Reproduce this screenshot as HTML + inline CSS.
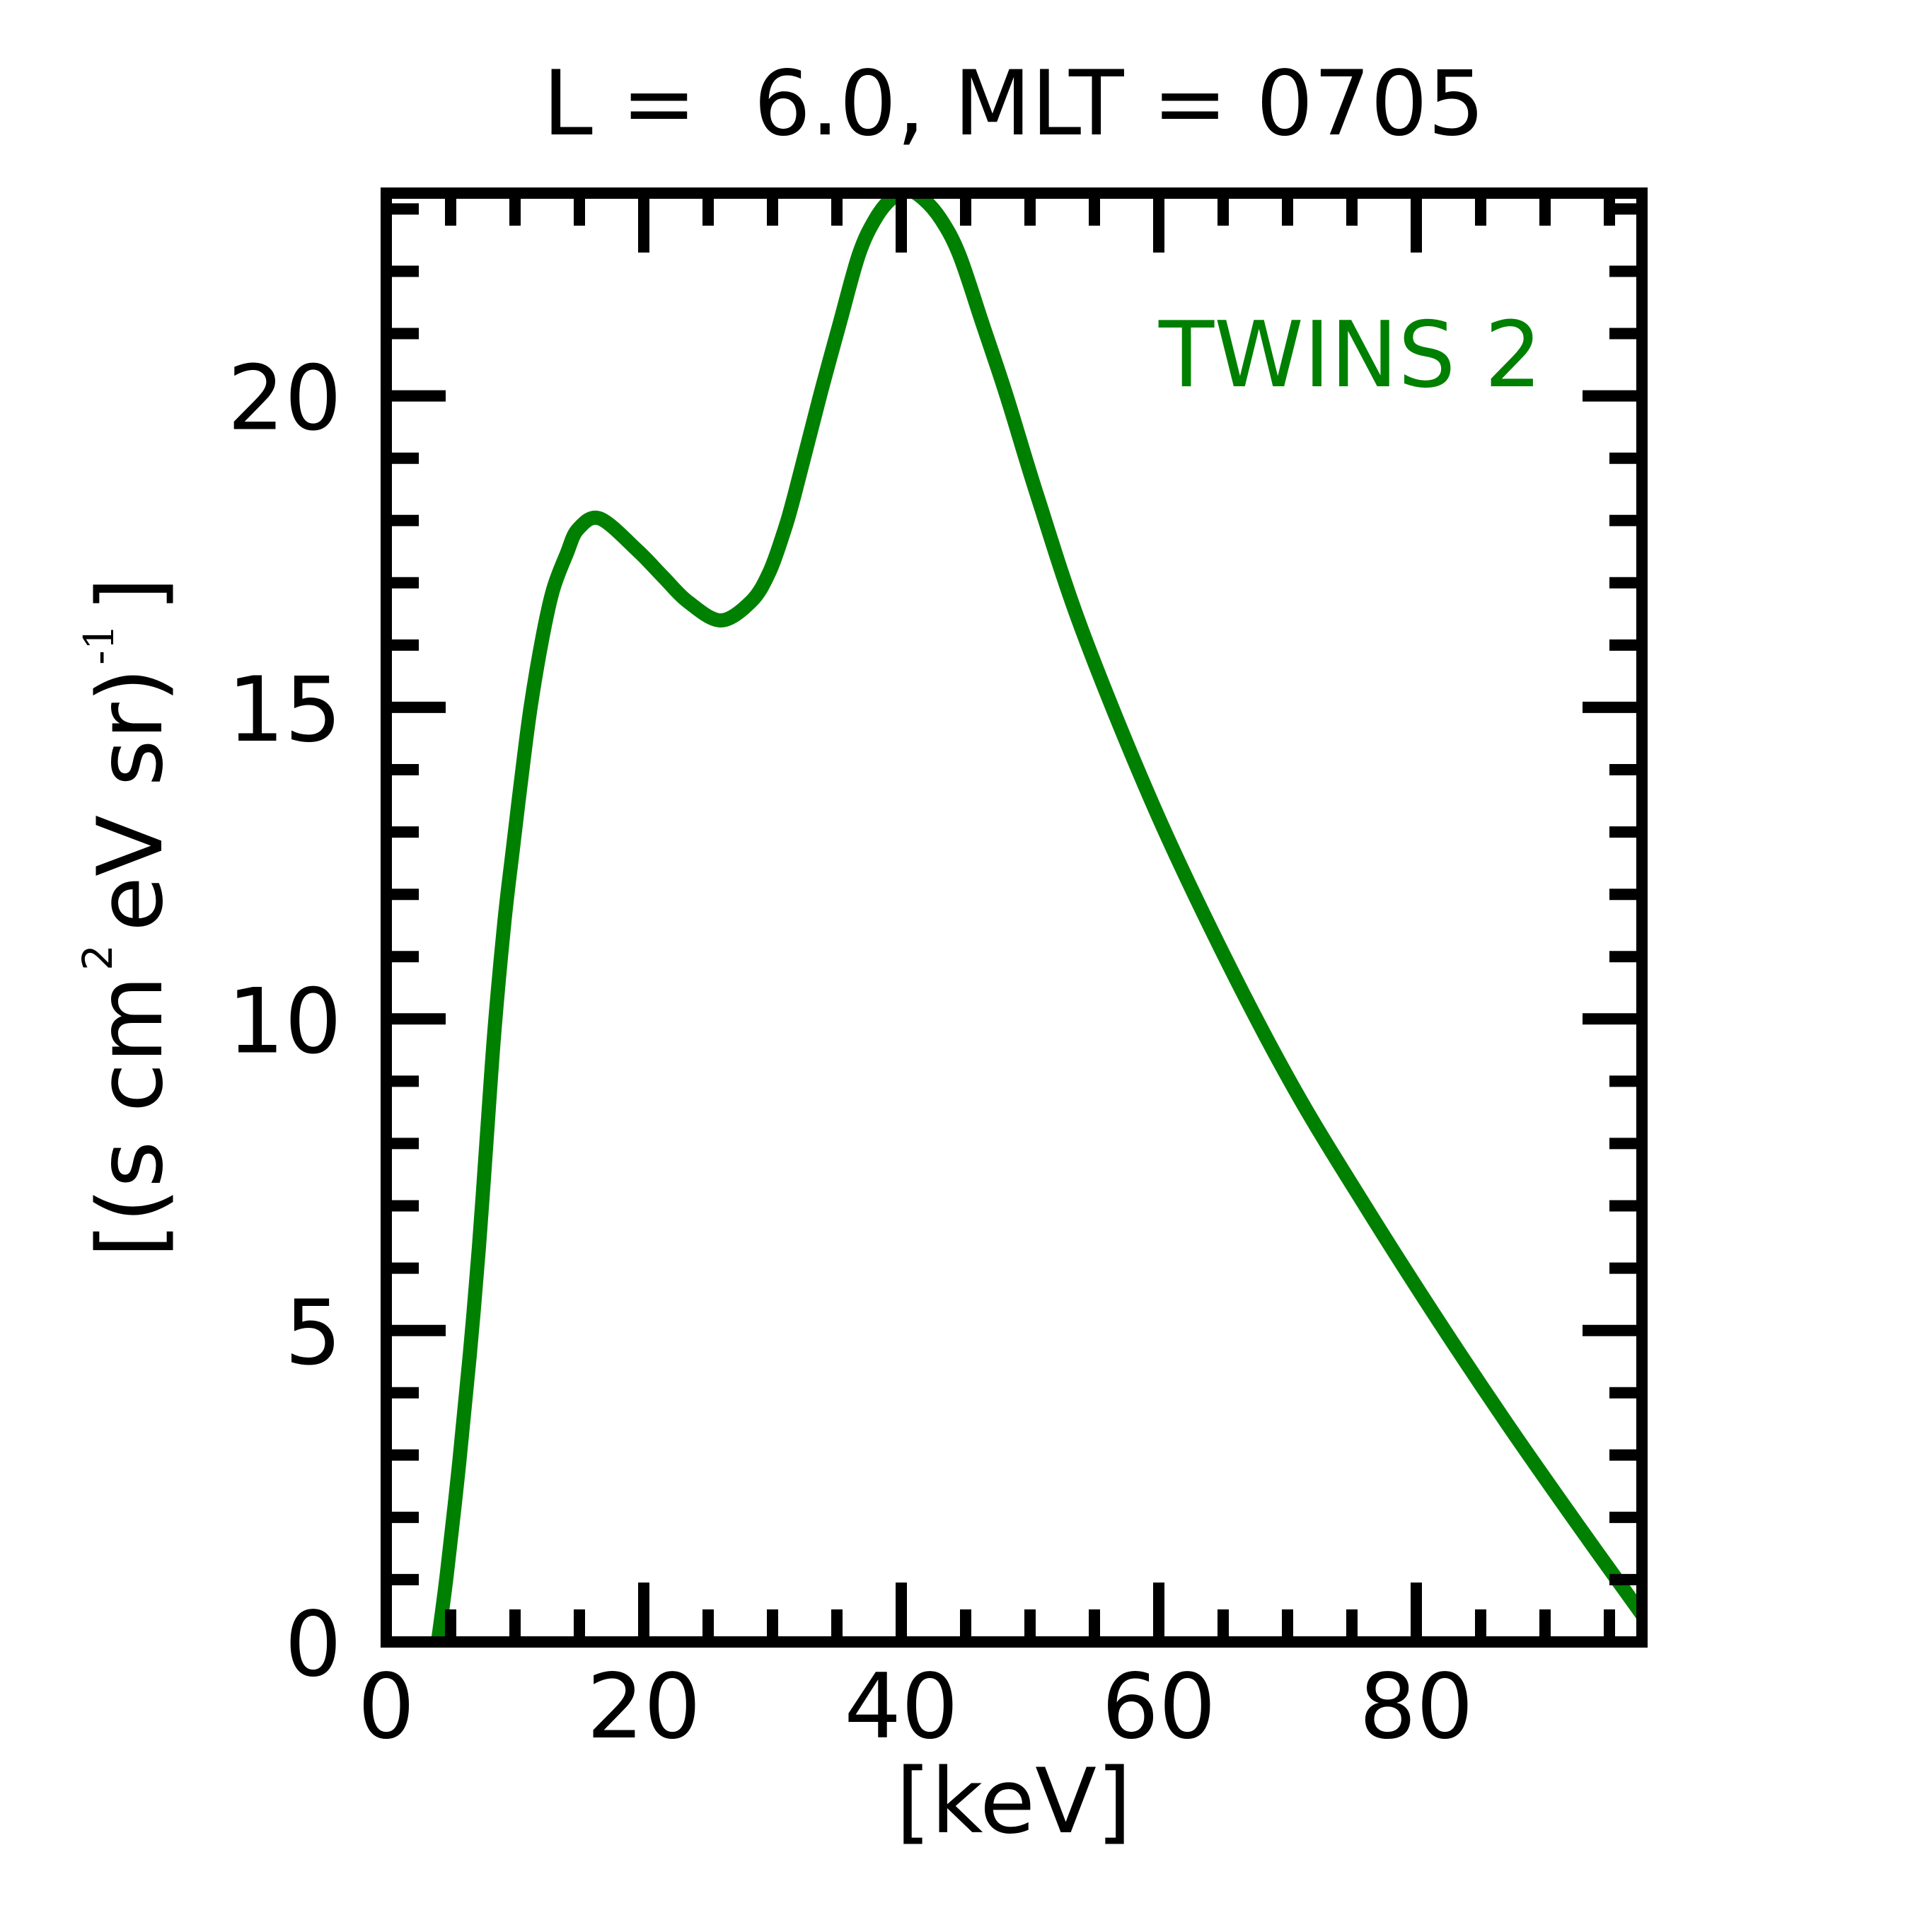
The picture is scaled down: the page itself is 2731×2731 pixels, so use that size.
<!DOCTYPE html>
<html>
<head>
<meta charset="utf-8">
<style>
html,body{margin:0;padding:0;background:#fff;}
svg{display:block;}
text{font-family:"DejaVu Sans","Liberation Sans",sans-serif;}
</style>
</head>
<body>
<svg width="2731" height="2731" viewBox="0 0 2731 2731" xmlns="http://www.w3.org/2000/svg">
<rect x="0" y="0" width="2731" height="2731" fill="#ffffff"/>
<defs>
<clipPath id="axclip"><rect x="546" y="273" width="1775" height="2048"/></clipPath>
</defs>

<path clip-path="url(#axclip)" fill="none" stroke="#008000" stroke-width="20" stroke-linejoin="round" stroke-linecap="butt" d="M616,2345 C616.67,2339.83 617.33,2334.5 620,2314 C622.67,2293.5 627.17,2262.83 632,2222 C636.83,2181.17 643.67,2120 649,2069 C654.33,2018 659.33,1967 664,1916 C668.67,1865 673,1814.17 677,1763 C681,1711.83 684.33,1660.17 688,1609 C691.67,1557.83 694.83,1507 699,1456 C703.17,1405 708.67,1345.67 713,1303 C717.33,1260.33 721,1233.83 725,1200 C729,1166.17 732.83,1133.33 737,1100 C741.17,1066.67 745,1033.33 750,1000 C755,966.67 761.67,927.83 767,900 C772.33,872.17 776.33,852.5 782,833 C787.67,813.5 795.17,797.17 801,783 C806.83,768.83 809.17,756.33 817,748 C824.83,739.67 834,728 848,733 C862,738 886.17,764.33 901,778 C915.83,791.67 925,802.83 937,815 C949,827.17 959.33,840.67 973,851 C986.67,861.33 1004.17,877.17 1019,877 C1033.83,876.83 1050.67,861.17 1062,850 C1073.33,838.83 1079.5,825.83 1087,810 C1094.5,794.17 1101,773.33 1107,755 C1113,736.67 1114.33,732.5 1123,700 C1131.67,667.5 1148.33,600.5 1159,560 C1169.67,519.5 1177.83,490.33 1187,457 C1196.17,423.67 1205.67,384.5 1214,360 C1222.33,335.5 1229.33,323.17 1237,310 C1244.67,296.83 1252.17,287.67 1260,281 C1267.83,274.33 1276.5,270 1284,270 C1291.5,270 1297.33,274.33 1305,281 C1312.67,287.67 1321.5,296.83 1330,310 C1338.5,323.17 1346.17,335.33 1356,360 C1365.83,384.67 1377.83,424.67 1389,458 C1400.17,491.33 1410.17,519.67 1423,560 C1435.83,600.33 1448.17,644.67 1466,700 C1483.83,755.33 1502.67,819 1530,892 C1557.33,965 1596.67,1061.67 1630,1138 C1663.33,1214.33 1696.67,1283 1730,1350 C1763.33,1417 1796.67,1480.83 1830,1540 C1863.33,1599.17 1896.67,1651.33 1930,1705 C1963.33,1758.67 1996.67,1810.83 2030,1862 C2063.33,1913.17 2096.67,1963.17 2130,2012 C2163.33,2060.83 2198.17,2110 2230,2155 C2261.83,2200 2301.83,2255.33 2321,2282 C2340.17,2308.67 2341,2309.5 2345,2315"/>

<path fill="none" stroke="#000" stroke-width="16" stroke-linecap="butt" d="M546 2321V2237 M910 2321V2237 M1274 2321V2237 M1638 2321V2237 M2002 2321V2237 M637 2321V2275 M728 2321V2275 M819 2321V2275 M1001 2321V2275 M1092 2321V2275 M1183 2321V2275 M1365 2321V2275 M1456 2321V2275 M1547 2321V2275 M1729 2321V2275 M1820 2321V2275 M1911 2321V2275 M2093 2321V2275 M2184 2321V2275 M2275 2321V2275 M546 273V357 M910 273V357 M1274 273V357 M1638 273V357 M2002 273V357 M637 273V319 M728 273V319 M819 273V319 M1001 273V319 M1092 273V319 M1183 273V319 M1365 273V319 M1456 273V319 M1547 273V319 M1729 273V319 M1820 273V319 M1911 273V319 M2093 273V319 M2184 273V319 M2275 273V319 M546 2321H630 M546 1880.7H630 M546 1440.3H630 M546 999.9H630 M546 559.6H630 M546 2232.9H592 M546 2144.9H592 M546 2056.8H592 M546 1968.7H592 M546 1792.6H592 M546 1704.5H592 M546 1616.4H592 M546 1528.4H592 M546 1352.2H592 M546 1264.2H592 M546 1176.1H592 M546 1088H592 M546 911.9H592 M546 823.8H592 M546 735.7H592 M546 647.7H592 M546 471.5H592 M546 383.5H592 M546 295.4H592 M2321 2321H2237 M2321 1880.7H2237 M2321 1440.3H2237 M2321 999.9H2237 M2321 559.6H2237 M2321 2232.9H2275 M2321 2144.9H2275 M2321 2056.8H2275 M2321 1968.7H2275 M2321 1792.6H2275 M2321 1704.5H2275 M2321 1616.4H2275 M2321 1528.4H2275 M2321 1352.2H2275 M2321 1264.2H2275 M2321 1176.1H2275 M2321 1088H2275 M2321 911.9H2275 M2321 823.8H2275 M2321 735.7H2275 M2321 647.7H2275 M2321 471.5H2275 M2321 383.5H2275 M2321 295.4H2275"/>

<rect x="546" y="273" width="1775" height="2048" fill="none" stroke="#000" stroke-width="16" stroke-linejoin="miter"/>

<text x="1433" y="190" font-size="127" text-anchor="middle" fill="#000" xml:space="preserve" style="white-space:pre">L =  6.0, MLT = 0705</text>

<g font-size="127" text-anchor="end" fill="#000">
<text x="483" y="2368">0</text>
<text x="483" y="1927.7">5</text>
<text x="483" y="1487.3">10</text>
<text x="483" y="1046.9">15</text>
<text x="483" y="606.6">20</text>
</g>

<g font-size="127" text-anchor="middle" fill="#000">
<text x="546" y="2456">0</text>
<text x="910" y="2456">20</text>
<text x="1274" y="2456">40</text>
<text x="1638" y="2456">60</text>
<text x="2002" y="2456">80</text>
</g>

<text x="1433" y="2590" font-size="127" text-anchor="middle" fill="#000">[keV]</text>

<g transform="rotate(-90)" fill="#000">
<text x="-1778" y="228" font-size="127" xml:space="preserve" style="white-space:pre">[(s cm</text>
<text x="-1372" y="158" font-size="58">2</text>
<text x="-1317" y="228" font-size="127" xml:space="preserve" style="white-space:pre">eV sr)</text>
<text x="-940" y="160" font-size="58"><tspan>-</tspan><tspan style="font-family:'DejaVu Serif','Liberation Serif',serif">1</tspan></text>
<text x="-865" y="228" font-size="127">]</text>
</g>

<text x="1638" y="546" font-size="128" fill="#008000">TWINS 2</text>
</svg>
</body>
</html>
